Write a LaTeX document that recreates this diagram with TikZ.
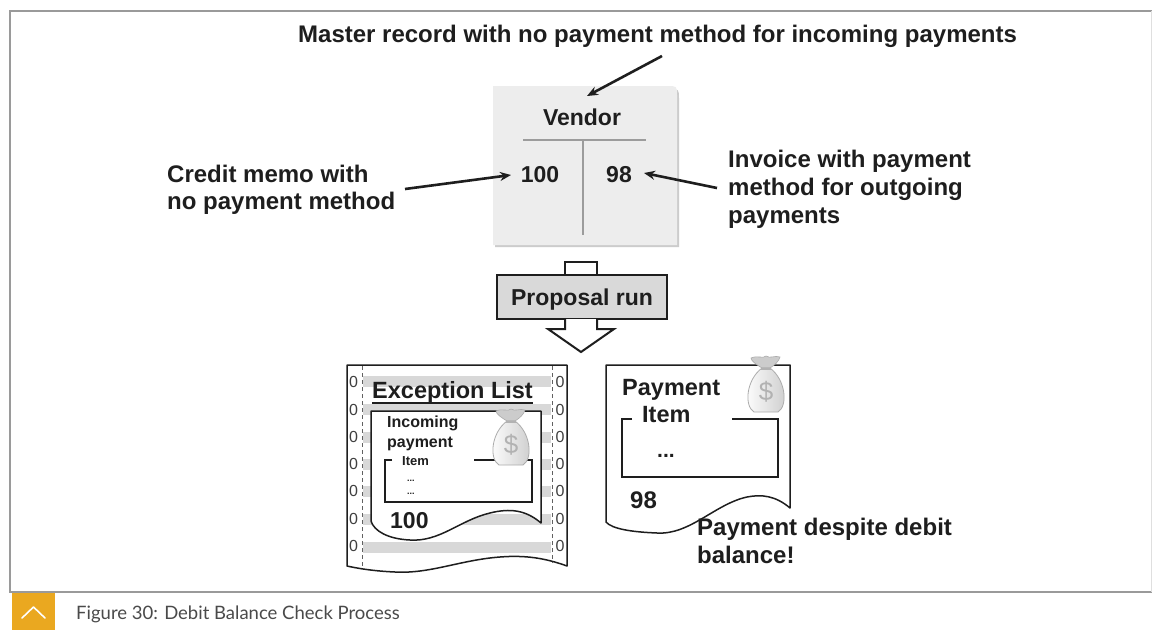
\documentclass[tikz,border=0pt]{standalone}
\usepackage{fontspec}
\setmainfont{Liberation Sans}
\newfontfamily\capfont{Lato}
\usetikzlibrary{arrows.meta}

\definecolor{ink}{HTML}{1E1E1E}
\definecolor{framegray}{HTML}{9A9A9A}
\definecolor{boxgray}{HTML}{EDEDED}
\definecolor{runfill}{HTML}{D9D9D9}
\definecolor{bandgray}{HTML}{D8D8D8}
\definecolor{rulegray}{HTML}{9C9C9C}
\definecolor{taborange}{HTML}{EAA820}
\definecolor{capgray}{HTML}{4A4A4A}

\tikzset{
  txt/.style={inner sep=0pt, anchor=base west, text=ink,
              font=\bfseries\fontsize{#1}{#1}\selectfont},
  txt/.default=24,
  ctxt/.style={txt=#1, anchor=base},
  pointer/.style={draw=ink, line width=2.6pt,
                  -{Stealth[length=11pt,width=9pt]}},
  sheet/.style={draw=ink, line width=1.5pt, fill=white, line join=round},
  itembox/.style={draw=ink, line width=1.3pt},
  hole/.style={inner sep=0pt, text=ink!85, font=\fontsize{16}{16}\selectfont},
  perforation/.style={draw=ink!70, line width=0.8pt, dash pattern=on 4pt off 3pt},
  moneybag/.pic={
    % ruffled top above the tie
    \fill[gray!40, draw=gray!65, line width=0.6pt]
      (-4,0) .. controls (-9,-3) and (-15,-7) .. (-15,-10)
      .. controls (-8,-13) and (-3,-9) .. (0,-12)
      .. controls (4,-9) and (9,-13) .. (14,-11)
      .. controls (13,-7) and (9,-3) .. (4,0) -- cycle;
    % body of the bag
    \shade[left color=white, right color=gray!40, draw=gray!65, line width=0.8pt]
      (-4,0) .. controls (-20,12) and (-22,38) .. (-12,44) -- (12,44)
      .. controls (22,38) and (20,12) .. (4,0) -- cycle;
    \draw[gray!60, line width=1.4pt] (-5,1) -- (5,1);
    \node[text=gray!60, inner sep=0pt, font=\fontsize{26}{26}\selectfont] (-dollar) at (0,24) {\$};
  }
}

\begin{document}
\begin{tikzpicture}[x=1pt, y=-1pt]
\useasboundingbox (0,0) rectangle (1152,630);
\fill[white] (0,0) rectangle (1152,630);

% ---------- page frame and caption ----------
\draw[framegray, line width=2pt] (1152,11) -- (10,11) -- (10,592) -- (1152,592);
\draw[gray!25, line width=1pt] (1151,11) -- (1151,592);
\fill[taborange] (12,593) rectangle (55,630);
\draw[white, line width=1.6pt, line cap=round, line join=round] (22,618) -- (33.5,607) -- (45,618);
\node[inner sep=0pt, anchor=base west, text=capgray, font=\capfont\fontsize{18.5}{18.5}\selectfont]
  (caption) at (76,619) {Figure 30: Debit Balance Check Process};

% ---------- vendor account ----------
\fill[gray!40] (495,89) -- (669,89) .. controls (679,89) .. (679,99) -- (679,247) -- (495,247) -- cycle;
\fill[boxgray] (493,245) -- (493,86) -- (667,86) .. controls (677,86) .. (677,96) -- (677,245) -- cycle;
\node[inner sep=0pt, minimum width=184pt, minimum height=159pt] (vendorbox) at (585,165.5) {};
\draw[rulegray, line width=2.5pt] (523,140) -- (646,140);
\draw[rulegray, line width=2.5pt] (583,140) -- (583,235);
\node[ctxt=23] (vendor) at (582,125) {Vendor};
\node[ctxt=23] (credit) at (540,182) {100};
\node[ctxt=23] (debit) at (619,182) {98};

% ---------- annotations ----------
\node[txt=24] (master) at (298,42) {Master record with no payment method for incoming payments};
\node[txt=24] (memoA) at (167,182) {Credit memo with};
\node[txt=24] (memoB) at (167,209) {no payment method};
\node[txt=24] (invA) at (728,167) {Invoice with payment};
\node[txt=24] (invB) at (728,195) {method for outgoing};
\node[txt=24] (invC) at (728,223) {payments};

\coordinate (masterTail) at (662,56);
\coordinate (vendorTop) at (587,96);
\coordinate (memoTail) at (405,189);
\coordinate (creditIn) at (511,175);
\coordinate (invTail) at (717,188);
\coordinate (debitIn) at (644,173);
\draw[pointer] (masterTail) -- (vendorTop);
\draw[pointer] (memoTail) -- (creditIn);
\draw[pointer] (invTail) -- (debitIn);

% ---------- proposal run ----------
\draw[ink, line width=2pt, fill=white] (565,275) -- (565,262) -- (597,262) -- (597,275);
\node[draw=ink, line width=2pt, fill=runfill, minimum width=170pt, minimum height=44pt,
      inner sep=0pt] (run) at (582,297) {};
\node[ctxt=23] (runlabel) at (582,305) {Proposal run};
\draw[ink, line width=2pt, fill=white, line join=miter]
  (565,319) -- (565,329) -- (548,329) -- (581,352) -- (614,329) -- (597,329) -- (597,319);

% ---------- exception list (continuous paper) ----------
\path[sheet] (347,365) -- (567,365) -- (567,566)
  .. controls (545,558) and (525,555) .. (500,557)
  .. controls (460,560) and (430,574) .. (395,572)
  .. controls (372,571) and (356,568) .. (347,566) -- cycle;
\foreach \y in {381,409,437,464,491,519,547}
  \fill[bandgray] (363,\y-5.5) rectangle (551,\y+5.5);
\draw[perforation] (362,366) -- (362,569);
\draw[perforation] (552,366) -- (552,563);
\foreach \y [count=\i] in {382,410,437,464,491,519,546} {
  \node[hole] (holeL\i) at (353.5,\y) {0};
  \node[hole] (holeR\i) at (560,\y) {0};
}
\node[txt=23.5] (exctitle) at (372,398) {Exception List};
\draw[ink, line width=2pt] (372,402.5) -- (533,402.5);

\path[sheet] (371,411) -- (541,411) -- (541,523)
  .. controls (526,510) and (510,508) .. (490,513)
  .. controls (460,520) and (440,542) .. (410,540)
  .. controls (388,539) and (374,531) .. (371,521) -- cycle;
\node[txt=16] (incA) at (387,427) {Incoming};
\node[txt=16] (incB) at (387,447) {payment};
\draw[itembox] (392,460) -- (385,460) -- (385,502) -- (532,502) -- (532,460) -- (474,460);
\node[txt=13] (excitem) at (402,465) {Item};
\node[txt=9] (excdotsA) at (407,481) {...};
\node[txt=9] (excdotsB) at (407,494) {...};
\node[txt=23] (excamount) at (390,528) {100};
\pic (bagA) at (511,421) {moneybag};

% ---------- payment item ----------
\path[sheet] (606,365) -- (790,365) -- (790,508)
  .. controls (776,496) and (762,494) .. (747,497)
  .. controls (715,504) and (690,535) .. (657,533)
  .. controls (632,532) and (612,529) .. (606,522) -- cycle;
\node[txt=23.5] (payA) at (622,395) {Payment};
\node[txt=23.5] (payB) at (642,422) {Item};
\draw[itembox] (632,419) -- (622,419) -- (622,477) -- (778,477) -- (778,419) -- (732,419);
\node[txt=21] (paydots) at (657,457) {...};
\node[txt=24] (payamount) at (630,508) {98};
\pic (bagB) at (766,368) {moneybag};

\node[txt=24] (despiteA) at (697,535) {Payment despite debit};
\node[txt=24] (despiteB) at (697,563) {balance!};
\end{tikzpicture}
\end{document}
